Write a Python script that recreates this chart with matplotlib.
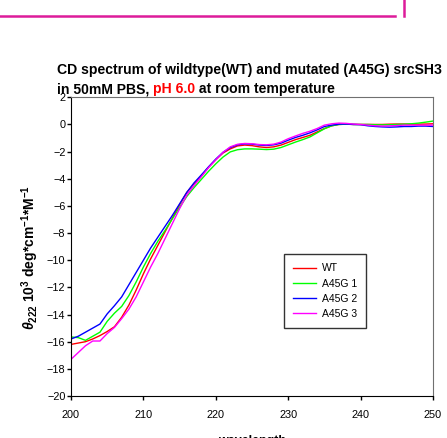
import numpy as np
import matplotlib
matplotlib.use("Agg")
import matplotlib.pyplot as plt
from matplotlib.lines import Line2D

plt.rcParams['font.family'] = ['Liberation Sans', 'DejaVu Sans']
plt.rcParams['mathtext.fontset'] = 'custom'
plt.rcParams['mathtext.rm'] = 'Liberation Sans:bold'
plt.rcParams['mathtext.bf'] = 'Liberation Sans:bold'
plt.rcParams['mathtext.it'] = 'Liberation Sans:italic:bold'

# golflengte (nm)
wavelength = [200, 201, 202, 203, 204, 205, 206, 207, 208, 209,
              210, 211, 212, 213, 214, 215, 216, 217, 218, 219,
              220, 221, 222, 223, 224, 225, 226, 227, 228, 229,
              230, 231, 232, 233, 234, 235, 236, 237, 238, 239,
              240, 241, 242, 243, 244, 245, 246, 247, 248, 249, 250]

wt = [-16.2, -16.1, -16.0, -15.8, -15.55, -15.25, -14.9, -14.2, -13.3, -12.2,
      -11.0, -9.9, -8.9, -7.9, -6.9, -5.9, -5.0, -4.35, -3.8, -3.15,
      -2.6, -2.1, -1.8, -1.58, -1.52, -1.56, -1.65, -1.7, -1.65, -1.52,
      -1.32, -1.12, -0.96, -0.8, -0.55, -0.3, -0.1, 0.0, 0.02, 0.0,
      0.0, 0.0, 0.0, 0.0, 0.02, 0.03, 0.03, 0.02, 0.02, 0.03, 0.05]

a45g_1 = [-15.65, -15.7, -15.9, -15.6, -15.3, -14.5, -13.9, -13.4, -12.6, -11.6,
          -10.5, -9.5, -8.6, -7.8, -6.95, -6.1, -5.3, -4.65, -4.05, -3.45,
          -2.9, -2.4, -2.02, -1.86, -1.8, -1.8, -1.82, -1.85, -1.82, -1.7,
          -1.5, -1.3, -1.12, -0.92, -0.62, -0.32, -0.1, 0.0, 0.02, 0.0,
          0.0, 0.0, -0.02, -0.03, -0.02, 0.0, 0.02, 0.05, 0.1, 0.17, 0.25]

a45g_2 = [-15.8, -15.6, -15.3, -15.0, -14.7, -13.95, -13.35, -12.7, -11.8, -10.9,
          -10.0, -9.1, -8.3, -7.5, -6.7, -5.85, -5.0, -4.3, -3.72, -3.12,
          -2.55, -2.05, -1.7, -1.5, -1.43, -1.45, -1.52, -1.55, -1.5, -1.38,
          -1.16, -0.96, -0.8, -0.62, -0.4, -0.15, -0.05, 0.02, 0.03, 0.0,
          -0.02, -0.1, -0.15, -0.18, -0.2, -0.18, -0.15, -0.15, -0.12, -0.12, -0.15]

a45g_3 = [-17.3, -16.8, -16.3, -15.95, -15.95, -15.4, -14.95, -14.3, -13.6, -12.7,
          -11.6, -10.5, -9.5, -8.4, -7.3, -6.2, -5.2, -4.5, -3.85, -3.18,
          -2.6, -2.05, -1.65, -1.46, -1.4, -1.42, -1.48, -1.5, -1.45, -1.3,
          -1.05, -0.85, -0.66, -0.5, -0.3, -0.05, 0.05, 0.1, 0.08, 0.03,
          0.0, -0.05, -0.1, -0.12, -0.1, -0.08, -0.05, -0.05, -0.05, -0.05, -0.05]

series = [("WT", wt, '#ff0000'),
          ("A45G 1", a45g_1, '#00ff00'),
          ("A45G 2", a45g_2, '#0000ff'),
          ("A45G 3", a45g_3, '#ff00ff')]

W, H = 447, 438
fig = plt.figure(figsize=(W/100, H/100), dpi=100)
ax = fig.add_axes([71/W, 1 - 396/H, 362/W, 298.7/H])

for naam, waarden, kleur in series:
    ax.plot(wavelength, waarden, color=kleur, lw=1.0, label=naam)

ax.set_xlim(200, 250)
ax.set_ylim(-20, 2)
ax.set_xticks([200, 210, 220, 230, 240, 250])
ax.set_yticks(np.arange(-20, 3, 2))
ax.tick_params(direction='out', length=3, width=1, labelsize=7.8)
ax.tick_params(axis='x', pad=7)
ax.tick_params(axis='y', pad=1)
for s in ['left', 'bottom']:
    ax.spines[s].set_color('black')
for s in ['top', 'right']:
    ax.spines[s].set_color('#707070')

ax.set_xlabel("wavelength", fontsize=9, fontweight='bold', va='top')
ax.xaxis.set_label_coords(0.5, (396 - 435)/298.7)
ax.set_ylabel(r"$\theta_{222}$ $10^{3}$ deg*cm$^{-1}$*M$^{-1}$",
              fontsize=10, fontweight='bold')
ax.yaxis.set_label_coords((41 - 71)/362, (396 - 257)/298.7)

leg = ax.legend(loc='upper left', bbox_to_anchor=((284 - 71)/362, (396 - 254)/298.7),
                borderaxespad=0, fontsize=7.5, frameon=True, fancybox=False,
                handlelength=2.2, labelspacing=0.5, borderpad=0.9, handletextpad=0.5)
leg.get_frame().set_edgecolor('black')
leg.get_frame().set_linewidth(1.0)

# titel in twee regels, met pH in rood; grootte zo dat de eerste regel 386 px breed is
regel1 = "CD spectrum of wildtype(WT) and mutated (A45G) srcSH3"
t0 = fig.text(57/W, 1 - 74/H, regel1, fontsize=10, fontweight='bold')
fig.canvas.draw()
r = fig.canvas.get_renderer()
fs = 10 * 386 / t0.get_window_extent(r).width
t0.set_fontsize(fs)

tkw = dict(fontsize=fs, fontweight='bold', va='bottom')
t1 = fig.text(57/W, 1 - 93/H, "in 50mM PBS, ", fontsize=fs, fontweight='bold')
t2 = ax.annotate("pH 6.0", xy=(1, 0), xycoords=t1, color='red', annotation_clip=False, **tkw)
ax.annotate(" at room temperature", xy=(1, 0), xycoords=t2, annotation_clip=False, **tkw)

# versiering bovenaan
fig.add_artist(Line2D([0, 395/W], [1 - 15.5/H, 1 - 15.5/H], color='#dd1c9a', lw=1.8))
fig.add_artist(Line2D([403.5/W, 403.5/W], [1 - 15.5/H, 1.0], color='#dd1c9a', lw=1.8))

fig.savefig("out.png", dpi=100)
